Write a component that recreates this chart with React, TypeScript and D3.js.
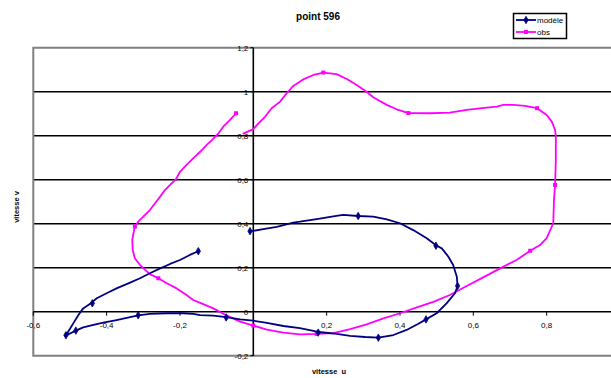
import React from "react";
import * as d3 from "d3";

const modeleU = [-0.150,-0.173,-0.200,-0.227,-0.254,-0.282,-0.309,-0.336,-0.373,-0.400,-0.427,-0.441,-0.464,-0.477,-0.491,-0.505,-0.511,
  -0.484,-0.464,-0.436,-0.409,-0.373,-0.336,-0.314,-0.282,-0.236,-0.191,-0.164,-0.145,-0.109,-0.074,-0.036,0.000,0.037,0.082,0.127,0.177,0.218,0.264,0.305,0.341,0.382,0.418,0.449,0.471,0.500,0.527,0.550,0.557,0.555,0.545,0.532,0.514,0.498,0.473,0.436,0.400,0.364,0.327,0.286,0.245,0.218,0.173,0.127,0.109,0.064,0.027,-0.009];
const modeleV = [0.275,0.258,0.235,0.217,0.197,0.175,0.152,0.132,0.106,0.084,0.061,0.041,0.015,-0.015,-0.053,-0.091,-0.108,
  -0.086,-0.071,-0.060,-0.050,-0.038,-0.025,-0.017,-0.010,-0.007,-0.007,-0.010,-0.016,-0.018,-0.025,-0.035,-0.041,-0.051,-0.065,-0.075,-0.092,-0.099,-0.110,-0.115,-0.118,-0.106,-0.083,-0.056,-0.035,-0.007,0.038,0.084,0.117,0.159,0.212,0.250,0.288,0.302,0.334,0.371,0.402,0.420,0.432,0.435,0.440,0.433,0.421,0.409,0.405,0.386,0.375,0.365];
const modeleMarkU = [-0.150,-0.439,-0.511,-0.484,-0.314,-0.074,0.177,0.341,0.471,0.557,0.498,0.286,-0.009];
const modeleMarkV = [0.275,0.038,-0.107,-0.086,-0.016,-0.026,-0.095,-0.118,-0.035,0.117,0.300,0.435,0.366];

const obsU = [-0.047,-0.064,-0.082,-0.095,-0.113,-0.127,-0.145,-0.164,-0.182,-0.200,-0.211,-0.227,-0.241,-0.254,-0.268,-0.282,-0.300,-0.314,-0.323,-0.327,-0.330,-0.329,-0.323,-0.309,-0.295,-0.282,-0.259,-0.236,-0.209,-0.182,-0.164,-0.145,-0.109,-0.073,-0.036,0.000,0.037,0.082,0.127,0.173,0.218,0.264,0.309,0.355,0.400,0.446,0.491,0.536,0.582,0.627,0.673,0.718,0.755,0.782,0.800,0.818,0.820,0.823,0.825,0.825,0.823,0.814,0.800,0.774,0.741,0.709,0.682,0.664,0.623,0.582,0.536,0.482,0.423,0.391,0.364,0.327,0.309,0.282,0.255,0.227,0.191,0.164,0.136,0.109,0.091,0.073,0.050,0.032,0.014,0.000,-0.029];
const obsV = [0.902,0.871,0.841,0.811,0.780,0.758,0.727,0.697,0.667,0.636,0.602,0.576,0.553,0.523,0.493,0.462,0.432,0.409,0.387,0.356,0.326,0.280,0.243,0.212,0.190,0.171,0.152,0.129,0.106,0.076,0.053,0.040,0.015,-0.017,-0.045,-0.063,-0.081,-0.095,-0.103,-0.101,-0.097,-0.079,-0.058,-0.030,-0.007,0.020,0.045,0.076,0.117,0.156,0.197,0.235,0.277,0.303,0.334,0.402,0.508,0.576,0.690,0.795,0.826,0.864,0.894,0.925,0.936,0.940,0.940,0.932,0.925,0.917,0.905,0.902,0.903,0.920,0.940,0.975,1.000,1.030,1.058,1.080,1.087,1.076,1.056,1.026,0.993,0.955,0.925,0.886,0.856,0.830,0.808];
const obsMarkU = [-0.047,-0.323,-0.259,0.000,0.173,0.755,0.823,0.774,0.423,0.191];
const obsMarkV = [0.902,0.387,0.152,-0.063,-0.101,0.277,0.576,0.925,0.903,1.087];

const xTicks = [-0.6,-0.4,-0.2,0.2,0.4,0.6,0.8];
const yTicks = [-0.2,0,0.2,0.4,0.6,0.8,1,1.2];
const gridVals = [0.2,0.4,0.6,0.8,1];

const BLUE = "#000080";
const MAG = "#FF00FF";
const FONT = "'Liberation Sans', Arial, sans-serif";

const fmt = (v: number) => (Math.round(v * 10) / 10).toString().replace(".", ",");

export default function App() {
  const x = d3.scaleLinear().domain([-0.6, 1.0]).range([33.3, 620]);
  const y = d3.scaleLinear().domain([-0.2, 1.2]).range([355.7, 47.7]);
  const line = d3.line<[number, number]>().x(d => x(d[0])).y(d => y(d[1]));
  const mPts = modeleU.map((u, i) => [u, modeleV[i]] as [number, number]);
  const oPts = obsU.map((u, i) => [u, obsV[i]] as [number, number]);
  const left = x(-0.6), top = y(1.2), bottom = y(-0.2), right = 611;
  const x0 = x(0), y0 = y(0);
  const diamond = d3.symbol(d3.symbolDiamond, 16)() || "";

  return (
    <svg width={611} height={378} style={{ position: "absolute", left: 0, top: 0, background: "#fff" }} fontFamily={FONT}>
      <rect x={0} y={0} width={611} height={378} fill="#fff" />
      {gridVals.map(v => (
        <line key={v} x1={left} x2={right} y1={y(v)} y2={y(v)} stroke="#000" strokeWidth={1.6} />
      ))}
      <path d={`M${right},${top}H${left}V${bottom}H${right}`} fill="none" stroke="#808080" strokeWidth={2} />
      <line x1={left} x2={right} y1={y0} y2={y0} stroke="#000" strokeWidth={1.6} />
      <line x1={x0} x2={x0} y1={top} y2={bottom} stroke="#000" strokeWidth={1.6} />
      {yTicks.map(v => (
        <line key={v} x1={x0 - 3} x2={x0} y1={y(v)} y2={y(v)} stroke="#000" strokeWidth={1} />
      ))}
      {xTicks.map(v => (
        <line key={v} x1={x(v)} x2={x(v)} y1={y0} y2={y0 + 4} stroke="#000" strokeWidth={1} />
      ))}
      {yTicks.map(v => (
        <text key={v} x={x0 - 5} y={y(v) + 3} fontSize={8} textAnchor="end" fill="#000">{fmt(v)}</text>
      ))}
      {xTicks.map(v => (
        <text key={v} x={x(v)} y={y0 + 16} fontSize={8} textAnchor="middle" fill="#000">{fmt(v)}</text>
      ))}
      <path d={line(oPts) || ""} fill="none" stroke={MAG} strokeWidth={1.8} strokeLinejoin="round" />
      <path d={line(mPts) || ""} fill="none" stroke={BLUE} strokeWidth={1.8} strokeLinejoin="round" />
      {obsMarkU.map((u, i) => (
        <rect key={i} x={x(u) - 2} y={y(obsMarkV[i]) - 2} width={4} height={4} fill={MAG} />
      ))}
      {modeleMarkU.map((u, i) => (
        <path key={i} d={diamond} transform={`translate(${x(u)},${y(modeleMarkV[i])})`} fill={BLUE} stroke={BLUE} strokeWidth={0.8} />
      ))}
      <text x={318} y={20} fontSize={10} fontWeight="bold" textAnchor="middle" fill="#000">point 596</text>
      <text x={329} y={374} fontSize={7.5} fontWeight="bold" textAnchor="middle" fill="#000">{"vitesse\u00a0 u"}</text>
      <text transform={`translate(19,207) rotate(-90)`} fontSize={7.5} fontWeight="bold" textAnchor="middle" fill="#000">vitesse v</text>
      <rect x={513.5} y={13.5} width={53} height={25} fill="#fff" stroke="#000" strokeWidth={1.5} />
      <line x1={516} x2={536} y1={20} y2={20} stroke={BLUE} strokeWidth={1.8} />
      <path d={diamond} transform="translate(526,20)" fill={BLUE} stroke={BLUE} strokeWidth={0.8} />
      <text x={537} y={23} fontSize={8} fill="#000">modèle</text>
      <line x1={516} x2={536} y1={32} y2={32} stroke={MAG} strokeWidth={1.8} />
      <rect x={524} y={30} width={4} height={4} fill={MAG} />
      <text x={537} y={35} fontSize={8} fill="#000">obs</text>
    </svg>
  );
}
